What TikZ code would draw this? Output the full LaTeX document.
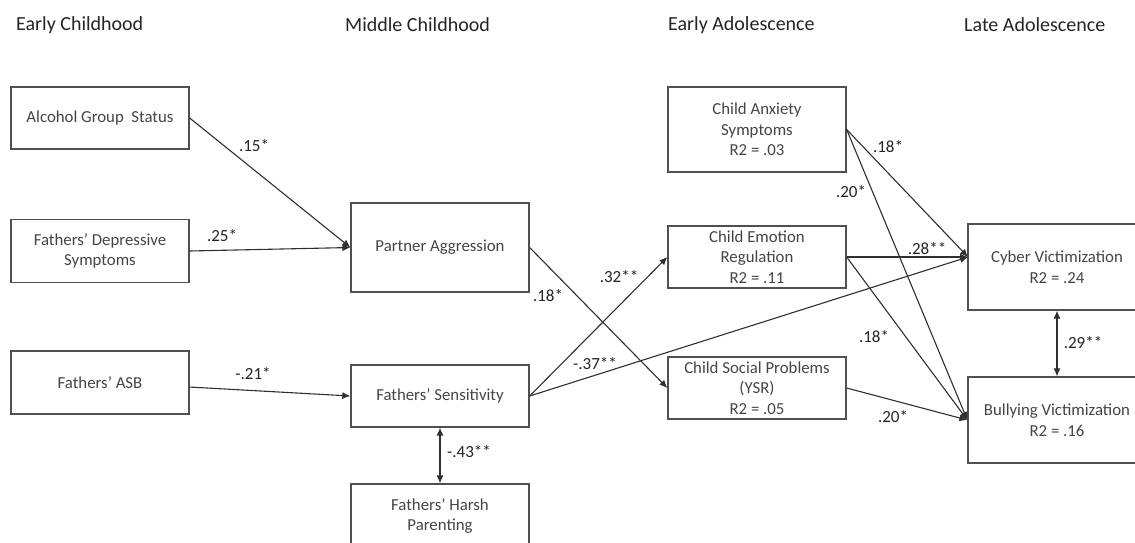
\documentclass[tikz,border=0pt]{standalone}
\usepackage{fontspec}
\setmainfont{Carlito}
\usetikzlibrary{arrows.meta}
\definecolor{boxline}{HTML}{505050}
\definecolor{arrline}{HTML}{303030}
\definecolor{boxtext}{HTML}{454545}
\definecolor{hdrtext}{HTML}{252525}
\tikzset{
  box/.style={draw=boxline, line width=1.3pt, minimum width=178pt, align=center,
    inner sep=0pt, text=boxtext, font=\fontsize{16.8}{20.5}\selectfont},
  hdr/.style={anchor=west, inner sep=0pt, text=hdrtext, font=\fontsize{20}{24}\selectfont},
  lab/.style={inner sep=0pt, text=hdrtext, font=\fontsize{17}{20}\selectfont},
  arr/.style={draw=arrline, line width=1.1pt, -{Latex[length=8pt,width=7pt]}},
  darr/.style={draw=arrline, line width=1.1pt, {Latex[length=8pt,width=7pt]}-{Latex[length=8pt,width=7pt]}}
}
\begin{document}
\begin{tikzpicture}[x=1pt,y=-1pt]
\useasboundingbox (0,0) rectangle (1135,542);
\clip (0,0) rectangle (1135,542);
\fill[white] (0,0) rectangle (1135,542);
% headers
\node[hdr] (h1) at (16,25) {Early Childhood};
\node[hdr] (h2) at (345,25) {Middle Childhood};
\node[hdr] (h3) at (668,25) {Early Adolescence};
\node[hdr] (h4) at (964,25) {Late Adolescence};
% boxes
\node[box, minimum height=62pt] (alc) at (100,118) {Alcohol Group\ \ Status};
\node[box, minimum height=63pt] (dep) at (100,251) {Fathers’ Depressive\\Symptoms};
\node[box, minimum height=63pt] (asb) at (100,382.5) {Fathers’ ASB};
\node[box, minimum height=89pt] (pa) at (440,247.5) {Partner Aggression};
\node[box, minimum height=62pt] (fs) at (440,396) {Fathers’ Sensitivity};
\node[box, minimum height=64pt] (fh) at (440,516) {Fathers’ Harsh\\Parenting};
\node[box, minimum height=85pt] (anx) at (757,129.5) {Child Anxiety\\Symptoms\\R2 = .03};
\node[box, minimum height=62pt] (emo) at (757,257) {Child Emotion\\Regulation\\R2 = .11};
\node[box, minimum height=62pt] (soc) at (757,388) {Child Social Problems\\(YSR)\\R2 = .05};
\node[box, minimum height=86pt] (cyb) at (1057,267) {Cyber Victimization\\R2 = .24};
\node[box, minimum height=86pt] (bul) at (1057,420) {Bullying Victimization\\R2 = .16};
\coordinate (cin) at (968,257);
\coordinate (asbout) at (189,387);
% arrows
\draw[arr] (alc.east) -- (pa.west);
\draw[arr] (dep.east) -- (pa.west);
\draw[arr] (asbout) -- (fs.west);
\draw[arr] (pa.east) -- (soc.west);
\draw[arr] (fs.east) -- (emo.west);
\draw[arr] (fs.east) -- (cin);
\draw[darr] (fs.south) -- (fh.north);
\draw[arr] (anx.east) -- (cin);
\draw[arr] (anx.east) -- (bul.west);
\draw[arr] (emo.east) -- (cin);
\draw[arr] (emo.east) -- (bul.west);
\draw[arr] (soc.east) -- (bul.west);
\draw[darr] (cyb.south) -- (bul.north);
% labels
\node[lab] (l1) at (254,146) {.15*};
\node[lab] (l2) at (222,236) {.25*};
\node[lab] (l3) at (253,374) {-.21*};
\node[lab] (l4) at (548,296) {.18*};
\node[lab] (l5) at (619,277) {.32**};
\node[lab] (l6) at (595,364) {-.37**};
\node[lab] (l7) at (469,452) {-.43**};
\node[lab] (l8) at (888,147) {.18*};
\node[lab] (l9) at (851,192) {.20*};
\node[lab] (l10) at (927,249) {.28**};
\node[lab] (l11) at (874,337) {.18*};
\node[lab] (l12) at (1083,343) {.29**};
\node[lab] (l13) at (893,417) {.20*};
\end{tikzpicture}
\end{document}
